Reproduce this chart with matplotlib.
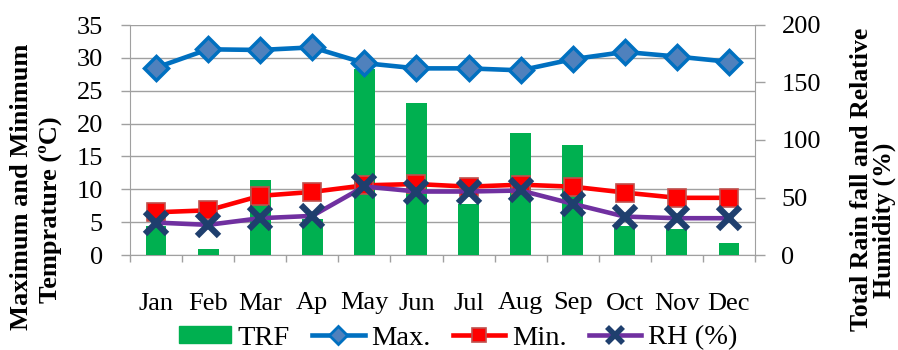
import numpy as np
import matplotlib; matplotlib.use("Agg")
import matplotlib.pyplot as plt
from matplotlib.lines import Line2D
from matplotlib.patches import Patch

plt.rcParams["font.family"] = ["Liberation Serif", "DejaVu Serif"]

months = ["Jan","Feb","Mar","Ap","May","Jun","Jul","Aug","Sep","Oct","Nov","Dec"]
trf = [25.3, 5.0, 65.4, 31.0, 162.0, 132.3, 44.5, 106.0, 95.3, 25.0, 22.4, 10.2]
tmax = [28.5, 31.3, 31.2, 31.6, 29.2, 28.4, 28.4, 28.1, 29.8, 30.9, 30.2, 29.4]
tmin = [6.5, 6.8, 9.0, 9.6, 10.6, 10.8, 10.4, 10.7, 10.4, 9.5, 8.7, 8.7]
rh = [28.2, 26.2, 32.0, 34.0, 59.6, 55.2, 55.2, 56.1, 44.5, 33.4, 32.0, 32.0]

GREEN = "#00B050"; BLUE = "#0070C0"; RED = "#FF0000"; PURPLE = "#7030A0"; NAVY = "#1F3F6E"
GRID = "#A0A0A0"
W, H = 898, 350
x = np.arange(len(months))

fig = plt.figure(figsize=(W/100, H/100), dpi=100)
ax = fig.add_axes([130/W, 1-255/H, (755-130)/W, (255-25)/H])
ax2 = ax.twinx()   # rain bars, right scale
ax3 = ax.twinx()   # max / min temperature
ax4 = ax.twinx()   # relative humidity

ax.set_ylim(0, 35); ax.set_yticks(np.arange(0, 36, 5))
ax.set_xlim(-0.5, 11.5)
ax.yaxis.grid(True, color=GRID, lw=1.0)
ax.set_axisbelow(True)
ax.set_xticks(x); ax.set_xticklabels(months)
ax.set_xticks(np.arange(13)-0.5, minor=True)
ax.tick_params(axis="x", which="major", length=0, pad=27, labelsize=19)
ax.tick_params(axis="x", which="minor", length=5, color=GRID, width=1.0, direction="out")
ax.tick_params(axis="y", length=6.5, color=GRID, width=1.0, labelsize=19, pad=13)
for s in ["top", "right"]: ax.spines[s].set_visible(False)
for s in ["left", "bottom"]: ax.spines[s].set_color(GRID)

ax2.bar(x, trf, width=0.4, color=GREEN)
ax2.set_ylim(0, 200); ax2.set_yticks(np.arange(0, 201, 50))
ax2.tick_params(axis="y", length=7, color=GRID, width=1.0, labelsize=19, pad=12)
for s in ["top", "left", "bottom"]: ax2.spines[s].set_visible(False)
ax2.spines["right"].set_color(GRID)

ax3.set_ylim(0, 35); ax3.axis("off")
ax3.plot(x, tmax, color=BLUE, lw=3.3, marker="D", ms=12, mfc="#4F81BD", mec=BLUE, mew=2.5)
ax3.plot(x, tmin, color=RED, lw=3.3, marker="s", ms=13, mfc=RED, mec="#C0504D", mew=1.2)

ax4.set_ylim(0, 200); ax4.axis("off")
ax4.plot(x, rh, color=PURPLE, lw=3.3, marker="x", ms=16, mec=NAVY, mew=4.5)

# axis titles, one text per line
lab = dict(rotation=90, ha="center", va="center", fontweight="bold")
fig.text(22/W, 1-187/H, "Maximum and Minimum", fontsize=19, **lab)
fig.text(50/W, 1-210/H, "Temprature (ºC)", fontsize=19, **lab)
fig.text(862/W, 1-179/H, "Total Rain fall and Relative", fontsize=18.5, **lab)
fig.text(884/W, 1-220/H, "Humidity (%)", fontsize=18.5, **lab)

handles = [
    Patch(color=GREEN, label="TRF"),
    Line2D([0], [0], color=BLUE, lw=3.3, marker="D", ms=9, mfc="#4F81BD", mec=BLUE, mew=2, label="Max."),
    Line2D([0], [0], color=RED, lw=3.3, marker="s", ms=10, mfc=RED, mec="#C0504D", mew=1.2, label="Min."),
    Line2D([0], [0], color=PURPLE, lw=3.3, marker="x", ms=12, mec=NAVY, mew=4, label="RH (%)"),
]
fig.legend(handles=handles, loc="center", bbox_to_anchor=(458/W, 1-338/H), ncol=4, frameon=False,
           fontsize=20.5, handlelength=1.83, handleheight=0.5, handletextpad=0.23,
           columnspacing=0.8, borderpad=0, borderaxespad=0)

fig.savefig("out.png", dpi=100)
